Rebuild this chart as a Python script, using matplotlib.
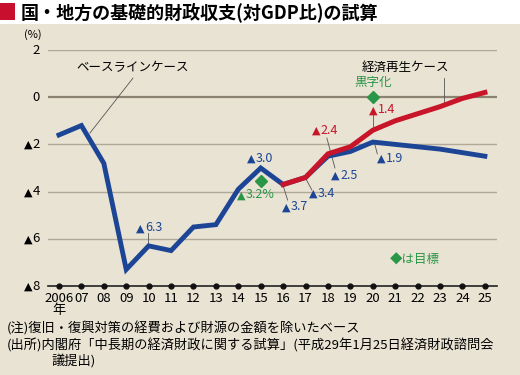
import numpy as np
import matplotlib
matplotlib.use("Agg")
import matplotlib.pyplot as plt
import matplotlib.transforms as mtransforms
from matplotlib.patches import Rectangle

plt.rcParams["font.family"] = ["Noto Sans CJK JP", "DejaVu Sans"]

# data
years = list(range(2006, 2026))
year_labels = ["2006\n年"] + ["%02d" % (y % 100) for y in years[1:]]
baseline = [-1.6, -1.2, -2.8, -7.3, -6.3, -6.5, -5.5, -5.4, -3.9, -3.0,
            -3.7, -3.4, -2.5, -2.3, -1.9, -2.0, -2.1, -2.2, -2.35, -2.5]
revival_years = list(range(2016, 2026))
revival = [-3.7, -3.4, -2.4, -2.1, -1.4, -1.0, -0.7, -0.4, -0.05, 0.2]
target_years = [2015, 2020]
target_vals = [-3.55, 0.0]
yticks = [2, 0, -2, -4, -6, -8]
ytick_nums = ["2", "0", "2", "4", "6", "8"]

bg = "#e9e3d3"
blue = "#1d4596"
red = "#c8152a"
green = "#2a9648"
grey = "#b1a998"
leadc = "#555555"

fig = plt.figure(figsize=(5.2, 3.75), dpi=100)
fig.patch.set_facecolor(bg)
fig.patches.append(Rectangle((0, 0.936), 1, 0.064, transform=fig.transFigure,
                             facecolor="white", edgecolor="none", zorder=0))
fig.patches.append(Rectangle((0, 1 - 20/375), 15/520, 17/375, transform=fig.transFigure,
                             facecolor="#c8102e", edgecolor="none", zorder=1))
fig.text(21/520, 1 - 12/375, "国・地方の基礎的財政収支(対GDP比)の試算",
         fontsize=13, fontweight="bold", va="center", ha="left")

ax = fig.add_axes([48/520, 1 - 286/375, 449/520, 236/375])
ax.set_facecolor(bg)
ax.set_xlim(2005.51, 2025.54)
ax.set_ylim(-8, 2)
for s in ["top", "right", "left"]:
    ax.spines[s].set_visible(False)
ax.spines["bottom"].set_color("#222222")
ax.spines["bottom"].set_linewidth(1.2)

for y in [2, -2, -4, -6]:
    ax.axhline(y, color=grey, lw=1.0, zorder=1)
ax.axhline(0, color="#8b8272", lw=1.6, zorder=1)

ax.set_yticks(yticks)
ax.set_yticklabels([])
ax.set_xticks(years)
ax.set_xticklabels(year_labels, linespacing=0.95, va="top")
ax.tick_params(axis="y", length=0)
ax.tick_params(axis="x", length=0, pad=4, labelsize=9.5)
ax.plot(years, [-8] * len(years), "o", color="#111111", ms=3.5, clip_on=False, zorder=5)
fig.text(33/520, 1 - 35/375, "(%)", fontsize=8, ha="center", va="center")

# y tick labels with a small triangle for minus
ytrans = mtransforms.blended_transform_factory(ax.transAxes, ax.transData)
for yv, num in zip(yticks, ytick_nums):
    ax.annotate(num, xy=(0, yv), xycoords=ytrans, xytext=(-6, 0), textcoords="offset points",
                fontsize=9.5, ha="right", va="center", annotation_clip=False)
    if yv < 0:
        ax.annotate("▲", xy=(0, yv), xycoords=ytrans, xytext=(-11.2, -2.6),
                    textcoords="offset points", fontsize=8, family="DejaVu Sans",
                    ha="right", va="baseline", annotation_clip=False)


def tri_label(x, y, num, color, fs=9):
    ax.annotate("▲", xy=(x, y), xytext=(0, -2.5), textcoords="offset points",
                fontsize=8, family="DejaVu Sans", color=color, ha="left", va="baseline")
    ax.annotate(num, xy=(x, y), xytext=(6.4, 0), textcoords="offset points",
                fontsize=fs, color=color, ha="left", va="center")


ax.plot(years, baseline, color=blue, lw=3.5, solid_joinstyle="miter", zorder=3)
ax.plot(revival_years, revival, color=red, lw=3.6, solid_joinstyle="miter", zorder=4)
ax.plot(target_years, target_vals, "D", color=green, ms=6.5, ls="none", zorder=5)

fs = 9
# case labels and leaders
ax.text(2009.3, 1.25, "ベースラインケース", fontsize=fs, ha="center", va="center")
ax.plot([2007.38, 2009.3], [-1.52, 0.81], color=leadc, lw=0.6, zorder=2)
ax.text(2021.45, 1.25, "経済再生ケース", fontsize=fs, ha="center", va="center")
ax.plot([2023.17, 2023.17], [0.82, -0.3], color=leadc, lw=0.6, zorder=2)

ax.text(2020, 0.62, "黒字化", color=green, fontsize=fs, ha="center", va="center")
tri_label(2019.85, -0.54, "1.4", red)
ax.plot([2020, 2020], [-0.75, -1.3], color=leadc, lw=0.6, zorder=2)
tri_label(2017.28, -1.39, "2.4", red)
ax.plot([2017.95, 2018.31], [-1.73, -3.0], color=leadc, lw=0.6, zorder=2)
tri_label(2018.15, -3.3, "2.5", blue)
tri_label(2020.18, -2.58, "1.9", blue)
ax.plot([2020.05, 2020.2], [-1.85, -2.4], color=leadc, lw=0.6, zorder=2)
tri_label(2017.15, -4.06, "3.4", blue)
ax.plot([2016.97, 2017.28], [-3.38, -3.93], color=leadc, lw=0.6, zorder=2)
tri_label(2015.95, -4.65, "3.7", blue)
ax.plot([2015.99, 2016.2], [-3.72, -4.36], color=leadc, lw=0.6, zorder=2)
tri_label(2014.38, -2.58, "3.0", blue)
tri_label(2013.95, -4.14, "3.2%", green)
tri_label(2009.43, -5.54, "6.3", blue)
ax.plot([2009.97, 2009.97], [-5.75, -6.2], color=leadc, lw=0.6, zorder=2)
ax.text(2021.88, -6.9, "◆は目標", color=green, fontsize=fs, ha="center", va="center")

fig.text(7/520, 1 - 328/375, "(注)復旧・復興対策の経費および財源の金額を除いたベース",
         fontsize=9.5, ha="left", va="center")
fig.text(7/520, 1 - 345/375, "(出所)内閣府「中長期の経済財政に関する試算」(平成29年1月25日経済財政諮問会",
         fontsize=9.5, ha="left", va="center")
fig.text(52/520, 1 - 361/375, "議提出)", fontsize=9.5, ha="left", va="center")

fig.savefig("out.png", dpi=100, facecolor=fig.get_facecolor())
